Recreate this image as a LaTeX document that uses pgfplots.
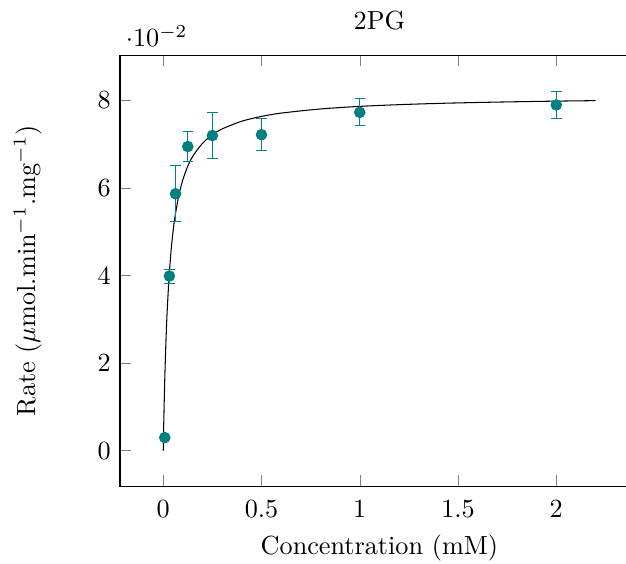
\documentclass[border=0pt]{standalone}
\usepackage{pgfplots}
\pgfplotsset{compat=1.18}
\begin{document}
\begin{tikzpicture}
\begin{axis}[
  scale only axis,
  width=198pt, height=164.7pt,
  xmin=-0.22, xmax=2.42,
  ymin=-0.0082, ymax=0.0904,
  xtick={0,0.5,1,1.5,2},
  ytick={0,0.02,0.04,0.06,0.08},
  title={2PG},
  xlabel={Concentration (mM)},
  xticklabel style={yshift=-2pt},
  xlabel style={yshift=0.5pt},
  ylabel={Rate ($\mu$mol.min$^{-1}$.mg$^{-1}$)},
  ylabel style={yshift=14.5pt},
  every y tick scale label/.append style={yshift=-2pt, xshift=-1pt},
]
\coordinate (sw) at (rel axis cs:0,0);
\addplot[black, smooth, no marks] coordinates {
(0,0) (0.0025,0.00607) (0.005,0.01130) (0.0075,0.01584) (0.01,0.01983) (0.015,0.02650)
(0.02,0.03187) (0.03,0.03995) (0.04,0.04575) (0.05,0.05012) (0.06,0.05353)
(0.08,0.05850) (0.1,0.06196) (0.125,0.06503) (0.15,0.06725) (0.2,0.07025)
(0.25,0.07218) (0.3,0.07353) (0.4,0.07528) (0.5,0.07638) (0.6,0.07713)
(0.8,0.07808) (1.0,0.07867) (1.2,0.07906) (1.4,0.07935) (1.6,0.07956)
(1.8,0.07973) (2.0,0.07987) (2.2,0.07998)
};
\addplot[teal, only marks, mark=*, mark options={fill=teal},
  error bars/.cd, y dir=both, y explicit] coordinates {
(0.0078,0.0030) +- (0,0.0002)
(0.03125,0.0399) +- (0,0.0016)
(0.0625,0.0587) +- (0,0.0064)
(0.125,0.0695) +- (0,0.0034)
(0.25,0.0720) +- (0,0.0052)
(0.5,0.0722) +- (0,0.0036)
(1,0.0773) +- (0,0.0031)
(2,0.0790) +- (0,0.0031)
};
\end{axis}
\pgfresetboundingbox
\path ([shift={(-45.8pt,-29.4pt)}]sw) rectangle ([shift={(193.1pt,185.7pt)}]sw);
\end{tikzpicture}
\end{document}
